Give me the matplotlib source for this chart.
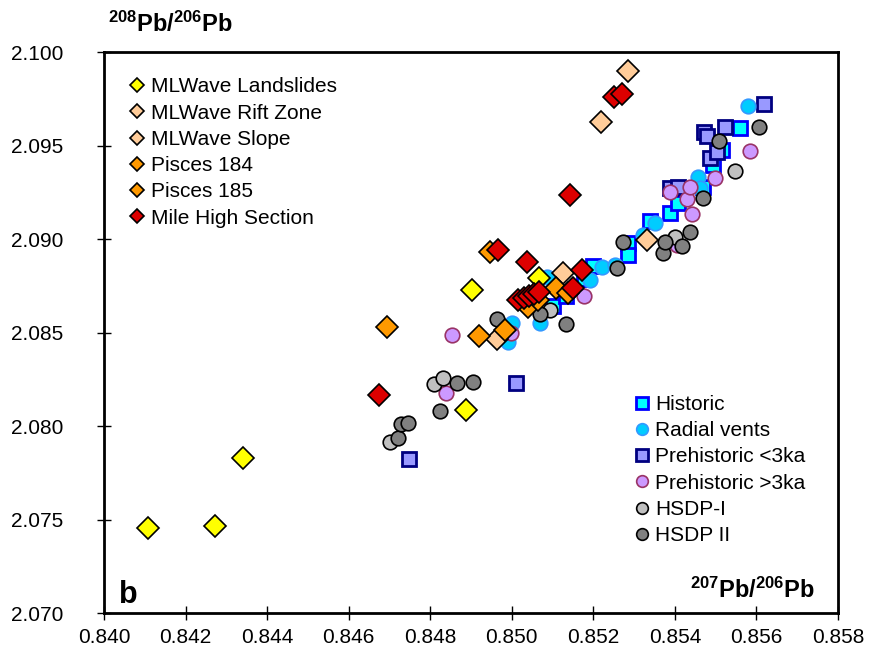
import matplotlib
matplotlib.use('Agg')
import matplotlib.pyplot as plt

plt.rcParams['font.family'] = ['Liberation Sans', 'DejaVu Sans']
plt.rcParams['mathtext.fontset'] = 'custom'
plt.rcParams['mathtext.rm'] = 'Liberation Sans'
plt.rcParams['mathtext.bf'] = 'Liberation Sans:bold'

# Daten (207Pb/206Pb, 208Pb/206Pb)
landslides_x = [0.84108, 0.84272, 0.84341, 0.84888, 0.84902, 0.85067]
landslides_y = [2.07454, 2.07465, 2.07829, 2.08085, 2.08727, 2.08791]

rift_x = [0.85285, 0.85219]
rift_y = [2.09898, 2.09626]

slope_x = [0.85331, 0.85125, 0.84964]
slope_y = [2.08995, 2.08818, 2.08465]

pisces184_x = [0.84694, 0.84920, 0.84983, 0.85040]
pisces184_y = [2.08529, 2.08481, 2.08513, 2.08636]

pisces185_x = [0.84946, 0.85064, 0.85108, 0.85138]
pisces185_y = [2.08930, 2.08674, 2.08738, 2.08711]

milehigh_x = [0.84674, 0.84966, 0.85037, 0.85015, 0.85030, 0.85042, 0.85054,
              0.85067, 0.85150, 0.85172, 0.85143, 0.85251, 0.85270]
milehigh_y = [2.08166, 2.08941, 2.08877, 2.08674, 2.08684, 2.08695, 2.08706,
              2.08716, 2.08738, 2.08834, 2.09235, 2.09759, 2.09775]

historic_x = [0.85101, 0.85133, 0.85177, 0.85199, 0.85285, 0.85285, 0.85339,
              0.85388, 0.85407, 0.85469, 0.85493, 0.85515, 0.85559]
historic_y = [2.08642, 2.08695, 2.08786, 2.08856, 2.08979, 2.08914, 2.09096,
              2.09139, 2.09192, 2.09278, 2.09396, 2.09476, 2.09594]

radial_x = [0.84991, 0.85000, 0.85069, 0.85086, 0.85192, 0.85221, 0.85253,
            0.85322, 0.85351, 0.85456, 0.85461, 0.85579]
radial_y = [2.08449, 2.08551, 2.08551, 2.08797, 2.08781, 2.08850, 2.08861,
            2.09021, 2.09085, 2.09332, 2.09273, 2.09711]

pre_lt3_x = [0.84748, 0.85010, 0.85388, 0.85407, 0.85471, 0.85479, 0.85486,
             0.85503, 0.85523, 0.85618]
pre_lt3_y = [2.07823, 2.08230, 2.09273, 2.09278, 2.09572, 2.09551, 2.09433,
             2.09465, 2.09599, 2.09722]

pre_gt3_x = [0.84839, 0.84853, 0.84998, 0.85177, 0.85388, 0.85405, 0.85430,
             0.85437, 0.85442, 0.85498, 0.85584]
pre_gt3_y = [2.08176, 2.08487, 2.08497, 2.08695, 2.09251, 2.08968, 2.09214,
             2.09278, 2.09134, 2.09326, 2.09471]

hsdp1_x = [0.84701, 0.84809, 0.84831, 0.85094, 0.85400, 0.85547]
hsdp1_y = [2.07914, 2.08224, 2.08257, 2.08620, 2.09011, 2.09364]

hsdp2_x = [0.84721, 0.84728, 0.84745, 0.84824, 0.84866, 0.84905, 0.84964,
           0.85069, 0.85133, 0.85258, 0.85273, 0.85371, 0.85376, 0.85417,
           0.85437, 0.85469, 0.85508, 0.85606]
hsdp2_y = [2.07936, 2.08011, 2.08016, 2.08080, 2.08230, 2.08235, 2.08572,
           2.08599, 2.08545, 2.08845, 2.08984, 2.08925, 2.08984, 2.08962,
           2.09037, 2.09219, 2.09524, 2.09599]

x_ticks = [0.840, 0.842, 0.844, 0.846, 0.848, 0.850, 0.852, 0.854, 0.856, 0.858]
y_ticks = [2.070, 2.075, 2.080, 2.085, 2.090, 2.095, 2.100]

# Diagramm
fig = plt.figure(figsize=(8.71, 6.56), dpi=100)
ax = fig.add_axes([0.1194, 0.0655, 0.8427, 0.8552])

# Kreise und Quadrate zuerst
h_hist, = ax.plot(historic_x, historic_y, 's', ms=10, mfc='#00FFFF', mec='#0000FF', mew=2, label='Historic')
h_pre3, = ax.plot(pre_lt3_x, pre_lt3_y, 's', ms=10, mfc='#9999FF', mec='#000080', mew=2, label='Prehistoric <3ka')
h_rad, = ax.plot(radial_x, radial_y, 'o', ms=10.5, mfc='#00CCFF', mec='#3399FF', mew=1.2, label='Radial vents')
h_pre_gt, = ax.plot(pre_gt3_x, pre_gt3_y, 'o', ms=10.5, mfc='#CC99FF', mec='#993366', mew=1.2, label='Prehistoric >3ka')
h_hs1, = ax.plot(hsdp1_x, hsdp1_y, 'o', ms=10.5, mfc='#C0C0C0', mec='black', mew=1.2, label='HSDP-I')
h_hs2, = ax.plot(hsdp2_x, hsdp2_y, 'o', ms=10.5, mfc='#808080', mec='black', mew=1.2, label='HSDP II')

# Rauten darüber
h_ls, = ax.plot(landslides_x, landslides_y, 'D', ms=11, mfc='#FFFF00', mec='black', mew=1.2, label='MLWave Landslides')
h_rz, = ax.plot(rift_x, rift_y, 'D', ms=11, mfc='#FFCC99', mec='black', mew=1.2, label='MLWave Rift Zone')
h_sl, = ax.plot(slope_x, slope_y, 'D', ms=11, mfc='#FFCC99', mec='black', mew=1.2, label='MLWave Slope')
h_p4, = ax.plot(pisces184_x, pisces184_y, 'D', ms=11, mfc='#FF9900', mec='black', mew=1.2, label='Pisces 184')
h_p5, = ax.plot(pisces185_x, pisces185_y, 'D', ms=11, mfc='#FF9900', mec='black', mew=1.2, label='Pisces 185')
h_mh, = ax.plot(milehigh_x, milehigh_y, 'D', ms=11, mfc='#DD0000', mec='black', mew=1.2, label='Mile High Section')

ax.set_xlim(0.840, 0.858)
ax.set_ylim(2.070, 2.100)
ax.set_xticks(x_ticks)
ax.set_yticks(y_ticks)
ax.set_xticklabels(['%.3f' % v for v in x_ticks])
ax.set_yticklabels(['%.3f' % v for v in y_ticks])
ax.tick_params(axis='both', direction='inout', length=10, width=1, labelsize=15)
ax.tick_params(axis='y', pad=24)
ax.tick_params(axis='x', pad=6)
for s in ax.spines.values():
    s.set_linewidth(2)

# Legenden
leg1 = ax.legend(handles=[h_ls, h_rz, h_sl, h_p4, h_p5, h_mh], loc='upper left',
                 bbox_to_anchor=(0.034, 0.955), frameon=False, fontsize=15,
                 handlelength=0.8, handletextpad=0.25, labelspacing=0.35,
                 borderpad=0, borderaxespad=0, markerscale=0.68)
ax.add_artist(leg1)
ax.legend(handles=[h_hist, h_rad, h_pre3, h_pre_gt, h_hs1, h_hs2], loc='upper left',
          bbox_to_anchor=(0.721, 0.389), frameon=False, fontsize=15,
          handlelength=0.8, handletextpad=0.25, labelspacing=0.35,
          borderpad=0, borderaxespad=0, markerscale=0.8)

# Beschriftungen
fig.text(108 / 871, 1 - 32 / 656, r'$\mathbf{^{208}Pb/^{206}Pb}$', fontsize=17)
ax.text(0.9687, 0.027, r'$\mathbf{^{207}Pb/^{206}Pb}$', fontsize=17,
        ha='right', va='baseline', transform=ax.transAxes)
ax.text(0.02, 0.018, 'b', fontsize=22, fontweight='bold',
        ha='left', va='baseline', transform=ax.transAxes)

plt.savefig('out.png', dpi=100)
